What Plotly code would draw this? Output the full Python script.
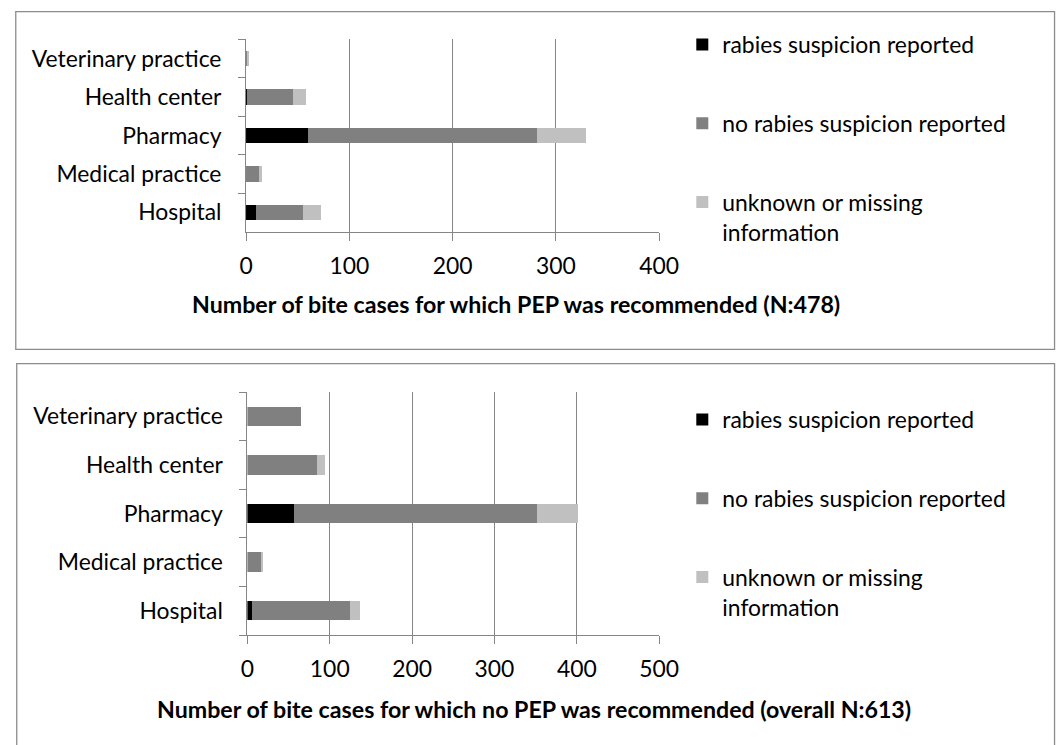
import plotly.graph_objects as go

W, H = 1057, 745

categories = ["Hospital", "Medical practice", "Pharmacy", "Health center", "Veterinary practice"]
series_names = ["rabies suspicion reported", "no rabies suspicion reported",
                "unknown or missing<br>information"]
colors = ["#000000", "#808080", "#C0C0C0"]

# Panel 1: PEP recommended (N:478)
pep_rabies = [10, 0, 60, 1, 0]
pep_no_rabies = [45, 13, 222, 44, 1]
pep_unknown = [18, 2, 47, 13, 2]

# Panel 2: no PEP recommended (overall N:613)
nopep_rabies = [5, 0, 56, 0, 0]
nopep_no_rabies = [119, 17, 296, 84, 65]
nopep_unknown = [13, 2, 50, 10, 0]

title1 = "Number of bite cases for which PEP was recommended (N:478)"
title2 = "Number of bite cases for which no PEP was recommended (overall N:613)"
x_ticks1 = [0, 100, 200, 300, 400]
x_ticks2 = [0, 100, 200, 300, 400, 500]

FONT = "Lato"
FS = 22.9
FT = 23.2
AX = "#868686"


def px(v):
    return v / W


def py(v):
    return 1 - v / H


fig = go.Figure()
for vals, name, col in zip([pep_rabies, pep_no_rabies, pep_unknown], series_names, colors):
    fig.add_trace(go.Bar(y=categories, x=vals, orientation="h", name=name,
                         marker=dict(color=col, line=dict(width=0)),
                         xaxis="x", yaxis="y", legend="legend", legendgroup="a" + name))
for vals, name, col in zip([nopep_rabies, nopep_no_rabies, nopep_unknown], series_names, colors):
    fig.add_trace(go.Bar(y=categories, x=vals, orientation="h", name=name,
                         marker=dict(color=col, line=dict(width=0)),
                         xaxis="x2", yaxis="y2", legend="legend2", legendgroup="b" + name))

xcommon = dict(showline=True, linecolor=AX, linewidth=1, showgrid=True, gridcolor=AX,
               gridwidth=1, ticks="outside", ticklen=8, tickcolor=AX, zeroline=False,
               tickfont=dict(family=FONT, size=FS, color="#000000"), fixedrange=True,
               ticklabelstandoff=6)
ycommon = dict(type="category", showline=True, linecolor=AX, linewidth=1, showgrid=False,
               ticks="outside", tickson="boundaries", ticklen=7, tickcolor=AX,
               tickfont=dict(family=FONT, size=FS, color="#000000"), fixedrange=True,
               categoryorder="array", categoryarray=categories, ticklabelstandoff=19)

legcommon = dict(font=dict(family=FONT, size=FS, color="#000000"), bgcolor="rgba(0,0,0,0)",
                 traceorder="grouped", tracegroupgap=46, valign="top",
                 xanchor="left", yanchor="top", itemclick=False, itemdoubleclick=False)

fig.update_layout(
    width=W, height=H, autosize=False, margin=dict(l=0, r=0, t=0, b=0),
    paper_bgcolor="white", plot_bgcolor="white",
    barmode="stack", bargap=0.6,
    font=dict(family=FONT, size=FS, color="#000000"),
    xaxis=dict(domain=[px(245.3), px(669.3)], anchor="y", range=[0, 400],
               tickvals=x_ticks1, **xcommon),
    yaxis=dict(domain=[py(231.7), py(39.3)], anchor="x", **ycommon),
    xaxis2=dict(domain=[px(246.7), px(669.3)], anchor="y2", range=[0, 500],
                tickvals=x_ticks2, **xcommon),
    yaxis2=dict(domain=[py(635), py(392)], anchor="x2", **ycommon),
    legend=dict(x=px(693), y=py(23), **legcommon),
    legend2=dict(x=px(693), y=py(398), **legcommon),
    showlegend=True,
)

fig.add_annotation(text="<b>" + title1 + "</b>", xref="paper", yref="paper",
                   x=px(857), y=py(304), xanchor="right", yanchor="middle",
                   showarrow=False, font=dict(family=FONT, size=FT, color="#000000"))
fig.add_annotation(text="<b>" + title2 + "</b>", xref="paper", yref="paper",
                   x=px(540.5), y=py(709), xanchor="center", yanchor="middle",
                   showarrow=False, font=dict(family=FONT, size=FT, color="#000000"))

fig.add_shape(type="rect", xref="paper", yref="paper", x0=px(9), x1=px(1075),
              y0=py(349.3), y1=py(11.7), line=dict(color="#8C8C8C", width=1.3), layer="below")
fig.add_shape(type="rect", xref="paper", yref="paper", x0=px(10), x1=px(1075),
              y0=py(770), y1=py(363.7), line=dict(color="#8C8C8C", width=1.3), layer="below")

fig.write_html(
    "out.html",
    config={"displayModeBar": False, "responsive": False},
    post_script="document.body.style.margin='0';document.body.style.overflow='hidden';",
)
